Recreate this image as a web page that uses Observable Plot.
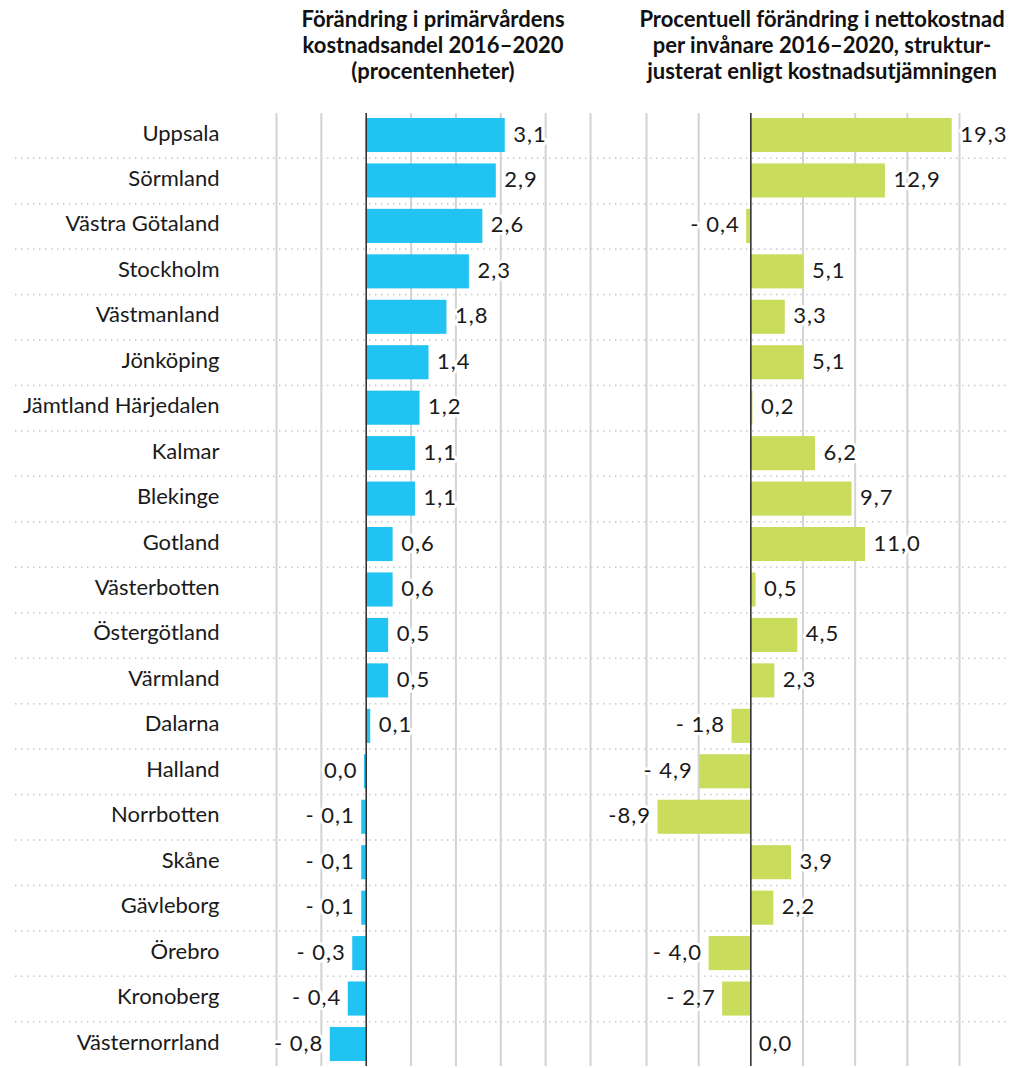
<!DOCTYPE html>
<html>
<head>
<meta charset="utf-8">
<script src="https://cdn.jsdelivr.net/npm/d3@7"></script>
<script src="https://cdn.jsdelivr.net/npm/@observablehq/plot@0.6"></script>
<style>
  html, body { margin: 0; padding: 0; background: #fff; }
  #wrap { position: relative; width: 1010px; height: 1068px; overflow: hidden; font-family: Lato, "Liberation Sans", sans-serif; color: #1a1a1a; }
  .title { position: absolute; top: 6px; font-weight: 700; font-size: 22px; line-height: 26px; text-align: center; color: #111; }
  #t1 { left: 273px; width: 320px; }
  #t2 { left: 622px; width: 400px; }
  #p1 { position: absolute; left: 0; top: 100px; }
  #p2 { position: absolute; left: 620px; top: 100px; }
  .vals text { letter-spacing: 1px; }
</style>
</head>
<body>
<div id="wrap">
  <div class="title" id="t1">Förändring i primärvårdens<br>kostnadsandel 2016–2020<br>(procentenheter)</div>
  <div class="title" id="t2">Procentuell förändring i nettokostnad<br>per invånare 2016–2020, struktur-<br>justerat enligt kostnadsutjämningen</div>
  <div id="p1"></div>
  <div id="p2"></div>
</div>
<script>
const regions = ["Uppsala","Sörmland","Västra Götaland","Stockholm","Västmanland","Jönköping","Jämtland Härjedalen","Kalmar","Blekinge","Gotland","Västerbotten","Östergötland","Värmland","Dalarna","Halland","Norrbotten","Skåne","Gävleborg","Örebro","Kronoberg","Västernorrland"];
const primaryShare = [3.1,2.9,2.6,2.3,1.8,1.4,1.2,1.1,1.1,0.6,0.6,0.5,0.5,0.1,-0.04,-0.1,-0.1,-0.1,-0.3,-0.4,-0.8];
const primaryLabels = ["3,1","2,9","2,6","2,3","1,8","1,4","1,2","1,1","1,1","0,6","0,6","0,5","0,5","0,1","0,0","- 0,1","- 0,1","- 0,1","- 0,3","- 0,4","- 0,8"];
const netCost = [19.3,12.9,-0.4,5.1,3.3,5.1,0.2,6.2,9.7,11.0,0.5,4.5,2.3,-1.8,-4.9,-8.9,3.9,2.2,-4.0,-2.7,0.0];
const netLabels = ["19,3","12,9","- 0,4","5,1","3,3","5,1","0,2","6,2","9,7","11,0","0,5","4,5","2,3","- 1,8","- 4,9","-8,9","3,9","2,2","- 4,0","- 2,7","0,0"];
const leftDomain = [-2, 5];
const leftGrid = [-2, -1, 1, 2, 3, 4, 5];
const rightDomain = [-10, 20];
const rightGrid = [-10, -5, 5, 10, 15, 20];

const BLUE = "#20c3f1";
const GREEN = "#c9dc5c";
const H = 968, MT = 13, MB = 2;
const PI = 0.25, PO = 0.109;
const step = (H - MT - MB) / (regions.length - PI + 2 * PO);

function panel(values, labels, domain, grid, color, opts) {
  const data = regions.map((r, i) => ({region: r, v: values[i], label: labels[i]}));
  const isLeft = d => d.label.startsWith("-") || d.v < 0;
  const marks = [
    Plot.ruleY(regions.slice(0, -1), {
      stroke: "#c8c8c8", strokeWidth: 1.5, strokeDasharray: "1.5,4.5", dy: step / 2,
      insetLeft: -opts.extendLeft, insetRight: -opts.extendRight
    }),
    Plot.ruleX(grid, {stroke: "#d3d3d3", strokeWidth: 2}),
    Plot.barX(data, {x: "v", y: "region", fill: color}),
    Plot.ruleX([0], {stroke: "#333", strokeWidth: 1.6}),
    Plot.text(data.filter(d => !isLeft(d)), {
      x: "v", y: "region", text: "label", textAnchor: "start", dx: 8, dy: -1,
      fontSize: 22, fill: "#1a1a1a", stroke: "white", strokeWidth: 6, paintOrder: "stroke", className: "vals"
    }),
    Plot.text(data.filter(isLeft), {
      x: "v", y: "region", text: "label", textAnchor: "end", dx: -7, dy: -1,
      fontSize: 22, fill: "#1a1a1a", stroke: "white", strokeWidth: 6, paintOrder: "stroke", className: "vals"
    })
  ];
  if (opts.axis) {
    marks.push(Plot.axisY({tickSize: 0, tickPadding: 57, fontSize: 22, fill: "#1a1a1a", label: null, dy: -2}));
  }
  return Plot.plot({
    width: opts.width, height: H,
    marginLeft: opts.ml, marginRight: opts.mr, marginTop: MT, marginBottom: MB,
    style: {fontFamily: "Lato, 'Liberation Sans', sans-serif", background: "white", overflow: "visible"},
    x: {domain, axis: null},
    y: {domain: regions, paddingInner: PI, paddingOuter: PO, round: false, axis: null},
    marks
  });
}

document.getElementById("p1").appendChild(panel(primaryShare, primaryLabels, leftDomain, leftGrid, BLUE,
  {width: 620, ml: 276, mr: 30, axis: true, extendLeft: 261, extendRight: 30}));
document.getElementById("p2").appendChild(panel(netCost, netLabels, rightDomain, rightGrid, GREEN,
  {width: 390, ml: 26, mr: 51, axis: false, extendLeft: 26, extendRight: 51}));
</script>
</body>
</html>
